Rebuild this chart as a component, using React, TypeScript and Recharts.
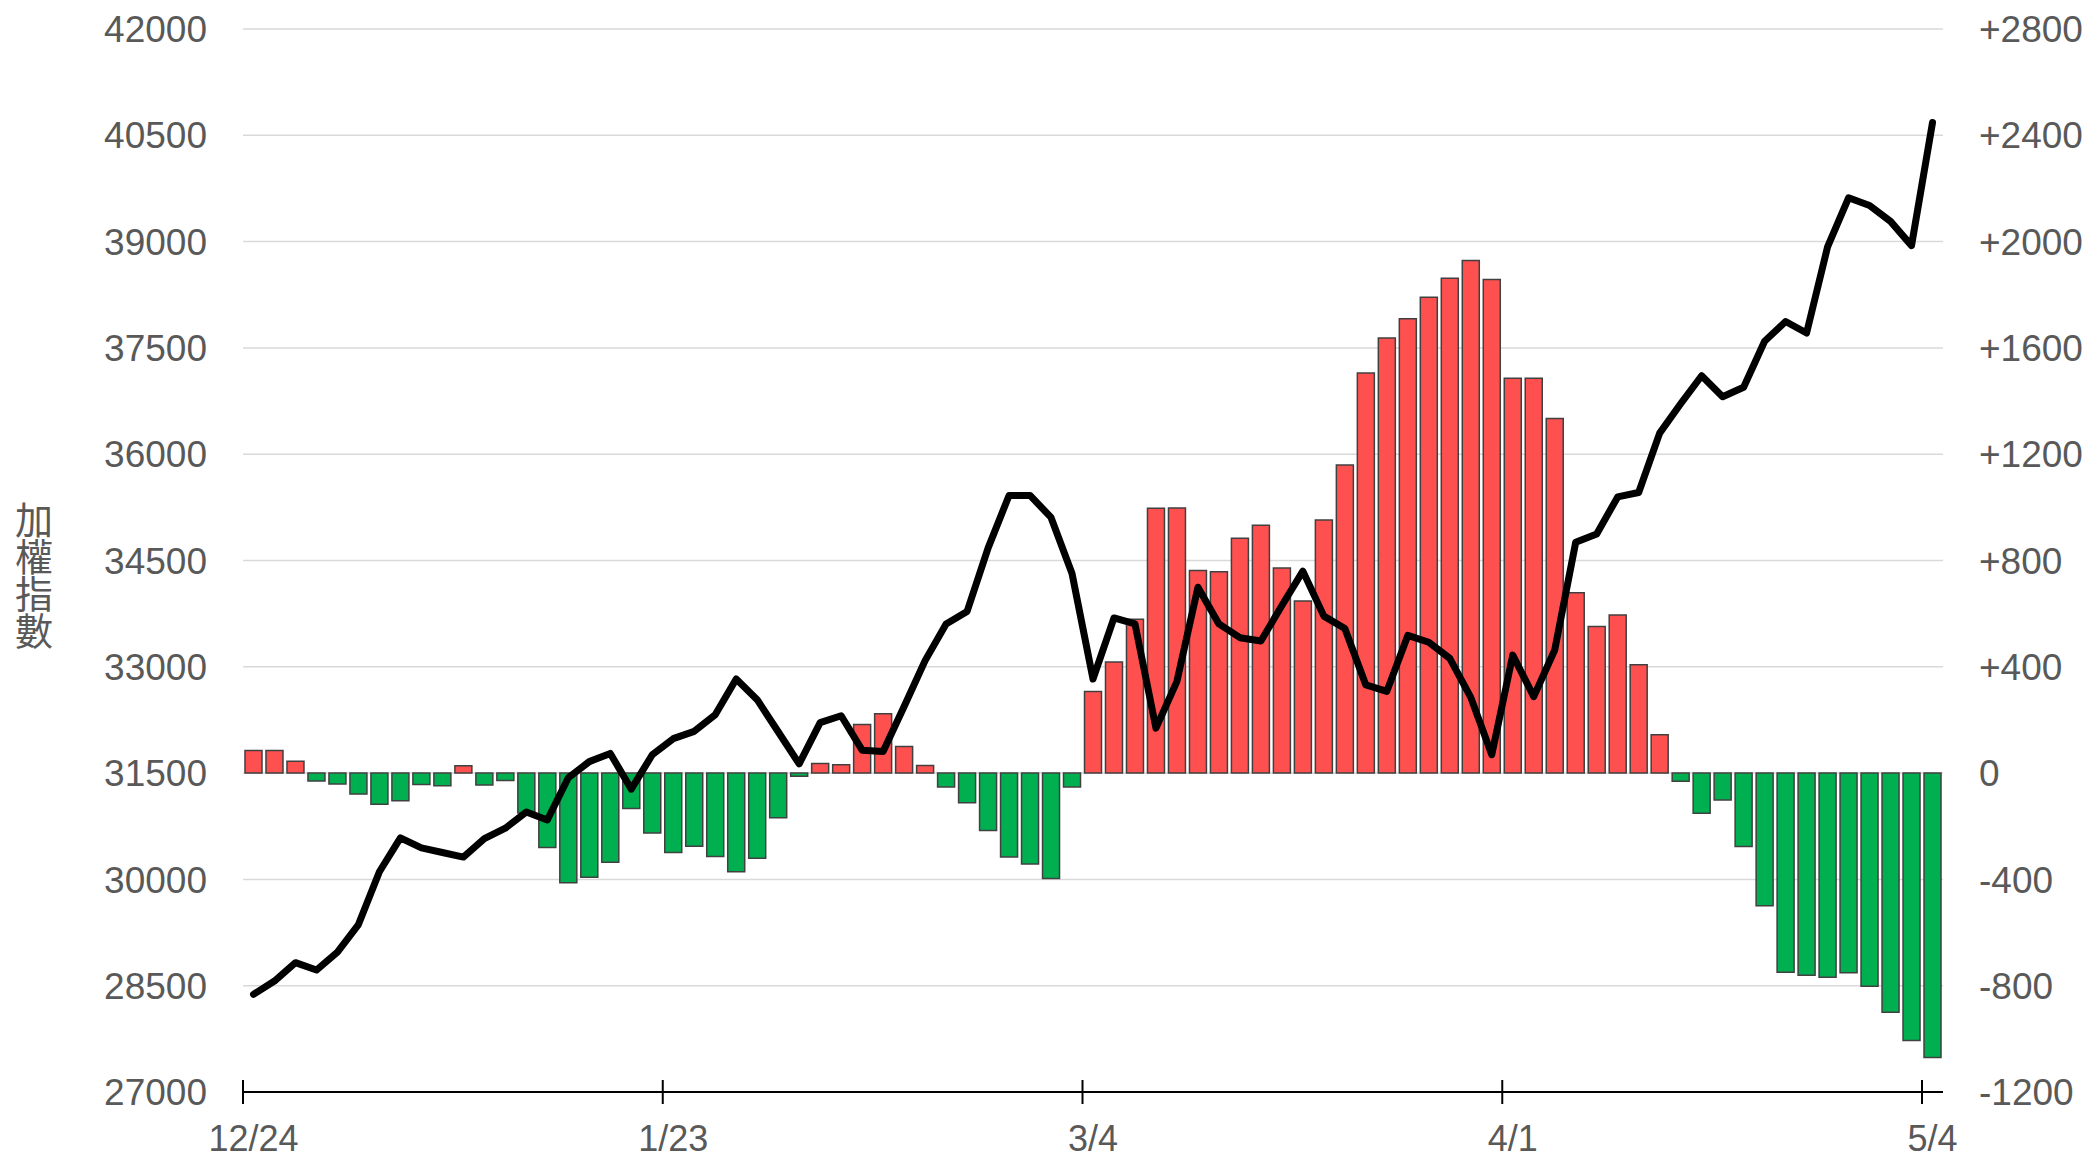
import React from 'react';
import { ComposedChart, Bar, Line, XAxis, YAxis, CartesianGrid, Cell } from 'recharts';

// trading days, 12/24 .. 5/4
const dates = [
  '12/24', '12/25', '12/26', '12/29', '12/30', '12/31', '1/5', '1/6', '1/7', '1/8', '1/9',
  '1/12', '1/13', '1/14', '1/15', '1/16', '1/19', '1/20', '1/21', '1/22', '1/23',
  '1/26', '1/27', '1/28', '1/29', '1/30', '2/2', '2/3', '2/4', '2/5', '2/6',
  '2/9', '2/10', '2/11', '2/23', '2/24', '2/25', '2/26', '3/2', '3/3', '3/4',
  '3/5', '3/6', '3/9', '3/10', '3/11', '3/12', '3/13', '3/16', '3/17', '3/18',
  '3/19', '3/20', '3/23', '3/24', '3/25', '3/26', '3/27', '3/30', '3/31', '4/1',
  '4/2', '4/7', '4/8', '4/9', '4/10', '4/13', '4/14', '4/15', '4/16', '4/17',
  '4/20', '4/21', '4/22', '4/23', '4/24', '4/27', '4/28', '4/29', '4/30', '5/4',
];

// 加權指數 (left axis)
const taiex = [
  28378, 28566, 28825, 28721, 28974, 29363, 30108, 30587, 30444, 30380, 30315,
  30574, 30723, 30950, 30839, 31435, 31662, 31778, 31273, 31759, 31986,
  32089, 32323, 32828, 32536, 32083, 31630, 32212, 32310, 31824, 31804,
  32439, 33087, 33605, 33780, 34674, 35418, 35418, 35108, 34317, 32828,
  33689, 33605, 32135, 32795, 34123, 33605, 33411, 33365, 33864, 34350,
  33715, 33540, 32744, 32653, 33443, 33346, 33119, 32569, 31759, 33165,
  32580, 33237, 34758, 34875, 35397, 35460, 36297, 36711, 37107, 36810,
  36945, 37593, 37872, 37710, 38925, 39618, 39510, 39285, 38943, 40680,
];

// bar series (right axis)
const diff = [
  85, 85, 45, -30, -41, -79, -117, -104, -43, -48, 28,
  -45, -28, -150, -280, -413, -392, -335, -133, -225, -299,
  -275, -314, -371, -320, -168, -12, 36, 31, 183, 223,
  100, 29, -52, -112, -216, -316, -342, -397, -52, 307,
  418, 579, 997, 998, 762, 758, 884, 933, 772, 648,
  952, 1159, 1506, 1637, 1710, 1791, 1862, 1929, 1857, 1486,
  1486, 1334, 679, 552, 595, 408, 144, -31, -151, -101,
  -276, -499, -749, -761, -768, -751, -802, -900, -1006, -1070,
];

const leftTicks = [27000, 28500, 30000, 31500, 33000, 34500, 36000, 37500, 39000, 40500, 42000];
const rightTicks = [-1200, -800, -400, 0, 400, 800, 1200, 1600, 2000, 2400, 2800];

const W = 2086;
const H = 1158;
const PLOT_LEFT = 243;
const PLOT_RIGHT = 1943;
const PLOT_TOP = 29;
const PLOT_BOTTOM = 1092;
const BAND = (PLOT_RIGHT - PLOT_LEFT) / dates.length;

const FONT = '"Liberation Sans", Arial, sans-serif';
const GREY = '#595959';

const rows = dates.map((d, i) => ({ date: d, taiex: taiex[i], diff: diff[i] }));

const DateTick = (props: any) => {
  const { x, y, payload } = props;
  const tx = x - BAND / 2;
  return (
    <g>
      <line x1={tx} x2={tx} y1={y - 12} y2={y + 12} stroke="#000" strokeWidth={2} />
      <text x={x} y={y + 59} textAnchor="middle" fill={GREY} fontSize={36} fontFamily={FONT}>
        {payload.value}
      </text>
    </g>
  );
};

const fmtRight = (v: number) => (v > 0 ? `+${v}` : String(v));

export default function App() {
  return (
    <div style={{ position: 'absolute', left: 0, top: 0, width: W, height: H, background: '#fff', fontFamily: FONT }}>
      <ComposedChart
        width={W}
        height={H}
        data={rows}
        margin={{ top: PLOT_TOP, right: 0, bottom: 0, left: 0 }}
      >
        <CartesianGrid yAxisId="left" vertical={false} stroke="#d9d9d9" strokeWidth={1.5} />
        <XAxis
          dataKey="date"
          interval={19}
          height={H - PLOT_BOTTOM}
          tickLine={false}
          tickSize={0}
          tickMargin={0}
          axisLine={{ stroke: '#000', strokeWidth: 2 }}
          tick={<DateTick />}
        />
        <YAxis
          yAxisId="left"
          width={PLOT_LEFT}
          domain={[27000, 42000]}
          ticks={leftTicks}
          interval={0}
          axisLine={false}
          tickLine={false}
          tickSize={0}
          tickMargin={36}
          tick={{ fill: GREY, fontSize: 37, fontFamily: FONT }}
        />
        <YAxis
          yAxisId="right"
          orientation="right"
          width={W - PLOT_RIGHT}
          domain={[-1200, 2800]}
          ticks={rightTicks}
          interval={0}
          axisLine={false}
          tickLine={false}
          tickSize={0}
          tickMargin={36}
          tickFormatter={fmtRight}
          tick={{ fill: GREY, fontSize: 37, fontFamily: FONT, textAnchor: 'start' }}
        />
        <Bar yAxisId="right" dataKey="diff" barSize={17} stroke="#404040" strokeWidth={1.5} isAnimationActive={false}>
          {rows.map((r, i) => (
            <Cell key={i} fill={r.diff >= 0 ? '#ff5050' : '#00b050'} />
          ))}
        </Bar>
        <Line
          yAxisId="left"
          dataKey="taiex"
          type="linear"
          stroke="#000"
          strokeWidth={7}
          strokeLinejoin="round"
          strokeLinecap="round"
          dot={false}
          activeDot={false}
          isAnimationActive={false}
        />
      </ComposedChart>
      <div
        style={{
          position: 'absolute',
          left: 14,
          top: 499,
          width: 40,
          fontSize: 38,
          lineHeight: '37px',
          color: GREY,
          fontFamily: '"Noto Sans CJK TC", "Noto Sans CJK SC", sans-serif',
          textAlign: 'center',
        }}
      >
        加權指數
      </div>
    </div>
  );
}
